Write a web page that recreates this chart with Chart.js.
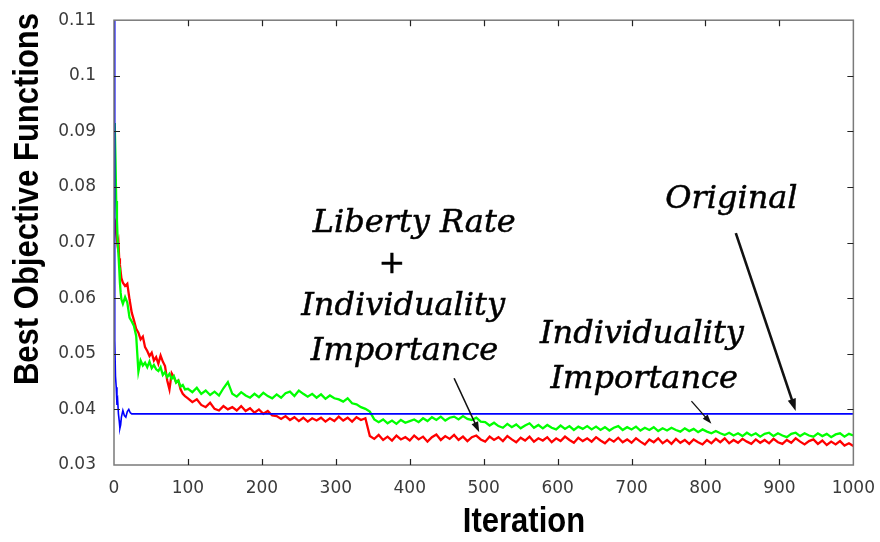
<!DOCTYPE html>
<html>
<head>
<meta charset="utf-8">
<script src="https://cdn.jsdelivr.net/npm/chart.js@4"></script>
<style>
  html, body { margin: 0; padding: 0; background: #fff; }
  #wrap { width: 880px; height: 542px; }
</style>
</head>
<body>
<div id="wrap"><canvas id="chart" width="880" height="542"></canvas></div>
<script>
/* ── DATA ───────────────────────────────────── */
const xTickValues = [0, 100, 200, 300, 400, 500, 600, 700, 800, 900, 1000];
const xTickLabels = ['0', '100', '200', '300', '400', '500', '600', '700', '800', '900', '1000'];
const yTickValues = [0.03, 0.04, 0.05, 0.06, 0.07, 0.08, 0.09, 0.10, 0.11];
const yTickLabels = ['0.03', '0.04', '0.05', '0.06', '0.07', '0.08', '0.09', '0.1', '0.11'];

// sampled iterations shared by the two noisy runs
const iterations = [
    1, 2, 3, 4, 5, 6, 7, 8, 9, 10,
    12, 15, 18, 21, 24, 27, 30, 33, 36, 39,
    42, 45, 48, 51, 54, 57, 60, 63, 66, 69,
    72, 75, 78, 81, 84, 87, 90, 93, 96,
    100, 106, 112, 118, 124, 130, 136, 142, 148, 154,
    160, 166, 172, 178, 184, 190, 196, 202, 208, 214,
    220, 226, 232, 238, 244, 250, 256, 262, 268, 274,
    280, 286, 292, 298, 304, 310, 316, 322, 328, 334,
    340, 346, 352, 358, 364, 370, 376, 382, 388, 394,
    400, 406, 412, 418, 424, 430, 436, 442, 448, 454,
    460, 466, 472, 478, 484, 490, 496, 502, 508, 514,
    520, 526, 532, 538, 544, 550, 556, 562, 568, 574,
    580, 586, 592, 598, 604, 610, 616, 622, 628, 634,
    640, 646, 652, 658, 664, 670, 676, 682, 688, 694,
    700, 706, 712, 718, 724, 730, 736, 742, 748, 754,
    760, 766, 772, 778, 784, 790, 796, 802, 808, 814,
    820, 826, 832, 838, 844, 850, 856, 862, 868, 874,
    880, 886, 892, 898, 904, 910, 916, 922, 928, 934,
    940, 946, 952, 958, 964, 970, 976, 982, 988, 994,
    1000
];

// Liberty Rate + Individuality Importance (red)
const libertyIndividuality = [
    .0732, .0736, .0716, .0705, .0694, .0700, .0672, .0660, .0648, .0636,
    .0628, .0622, .0626, .0598, .0574, .0560, .0545, .0538, .0526, .0531,
    .0512, .0505, .0496, .0502, .0488, .0494, .0482, .0497, .0486, .0478,
    .0452, .0436, .0465, .0458, .0449, .0452, .0436, .0428, .0424,
    .0420, .0413, .0418, .0408, .0404, .0412, .0401, .0398, .0406, .0400,
    .0404, .0398, .0406, .0397, .0402, .0394, .0400, .0392, .0397, .0389,
    .0388, .0383, .0388, .0381, .0386, .0379, .0385, .0378, .0384, .0380,
    .0385, .0378, .0384, .0379, .0387, .0380, .0385, .0378, .0386, .0381,
    .0384, .0352, .0347, .0354, .0345, .0351, .0344, .0353, .0346, .0350,
    .0344, .0353, .0346, .0351, .0342, .0350, .0355, .0345, .0352, .0347,
    .0354, .0345, .0351, .0343, .0350, .0353, .0346, .0342, .0351, .0345,
    .0350, .0343, .0352, .0346, .0341, .0349, .0344, .0351, .0342, .0348,
    .0344, .0350, .0341, .0348, .0343, .0351, .0345, .0340, .0349, .0343,
    .0348, .0342, .0350, .0344, .0339, .0347, .0342, .0349, .0341, .0346,
    .0340, .0348, .0342, .0337, .0346, .0341, .0348, .0339, .0345, .0338,
    .0347, .0340, .0345, .0338, .0346, .0341, .0337, .0345, .0339, .0347,
    .0341, .0348, .0339, .0345, .0340, .0347, .0342, .0338, .0346, .0340,
    .0345, .0339, .0347, .0341, .0338, .0345, .0340, .0348, .0342, .0337,
    .0343, .0346, .0338, .0344, .0336, .0342, .0337, .0343, .0335, .0339,
    .0334
];

// Individuality Importance (green)
const individuality = [
    .0915, .0850, .0775, .0740, .0702, .0680, .0655, .0628, .0610, .0598,
    .0590, .0602, .0592, .0565, .0558, .0550, .0532, .0468, .0488, .0479,
    .0484, .0476, .0486, .0474, .0480, .0472, .0469, .0476, .0462, .0467,
    .0458, .0464, .0455, .0460, .0448, .0452, .0441, .0444, .0436,
    .0437, .0431, .0439, .0428, .0434, .0426, .0432, .0425, .0438, .0449,
    .0428, .0423, .0431, .0425, .0421, .0428, .0422, .0430, .0424, .0420,
    .0427, .0421, .0429, .0432, .0424, .0434, .0428, .0423, .0428, .0421,
    .0427, .0419, .0425, .0420, .0418, .0414, .0420, .0411, .0409, .0404,
    .0401, .0396, .0382, .0377, .0382, .0375, .0380, .0374, .0381, .0376,
    .0379, .0382, .0377, .0384, .0379, .0386, .0381, .0387, .0380, .0385,
    .0387, .0382, .0388, .0383, .0381, .0385, .0378, .0377, .0371, .0376,
    .0370, .0367, .0374, .0368, .0373, .0366, .0371, .0375, .0367, .0372,
    .0366, .0372, .0367, .0364, .0371, .0365, .0370, .0363, .0369, .0365,
    .0370, .0364, .0369, .0363, .0368, .0362, .0367, .0370, .0363, .0368,
    .0364, .0369, .0362, .0367, .0363, .0368, .0361, .0366, .0362, .0367,
    .0363, .0360, .0366, .0361, .0365, .0359, .0364, .0360, .0357, .0361,
    .0357, .0354, .0358, .0353, .0357, .0352, .0358, .0353, .0357, .0351,
    .0356, .0358, .0352, .0357, .0353, .0350, .0356, .0358, .0352, .0357,
    .0353, .0351, .0357, .0352, .0356, .0350, .0355, .0357, .0351, .0356,
    .0353
];

// Original (blue)
const originalIters = [0, 1, 2, 3, 4, 5, 6, 7, 8, 9, 10, 12, 14, 16, 18, 20, 22, 24, 1000];
const original = [.110, .0525, .0460, .0440, .0408, .0415, .0392, .0380, .0366, .0372,
                  .0386, .0398, .0389, .0386, .0396, .0400, .0394, .0392, .0392];

const toPoints = (xs, ys) => xs.map((x, i) => ({ x, y: ys[i] }));

/* ── NOTES & ARROWS (data units) ────────────── */
const notes = [
    { text: 'Original',      x: 835, y: 0.0777 },
    { text: 'Liberty Rate',  x: 406, y: 0.0734 },
    { text: '+',             x: 376, y: 0.0660 },
    { text: 'Individuality', x: 391, y: 0.0584 },
    { text: 'Importance',    x: 393, y: 0.0504 },
    { text: 'Individuality', x: 714, y: 0.0534 },
    { text: 'Importance',    x: 717, y: 0.0454 },
];
const arrows = [
    { from: [841, 0.0717], to: [922, 0.0397], width: 2.6, head: 13 },
    { from: [460, 0.0456], to: [494, 0.0359], width: 1.6, head: 11 },
    { from: [781, 0.0415], to: [808, 0.0374], width: 1.3, head: 10 },
];

/* ── FRAME, TITLES, NOTES ───────────────────── */
const decorations = {
    id: 'decorations',
    afterDatasetsDraw(chart) {
        const { ctx, chartArea: a, scales: { x, y } } = chart;
        ctx.save();
        ctx.strokeStyle = '#7a7a7a';
        ctx.lineWidth = 1.5;
        ctx.strokeRect(a.left, a.top, a.right - a.left, a.bottom - a.top);

        // inward tick marks on all four sides
        ctx.strokeStyle = '#222';
        ctx.lineWidth = 1.2;
        ctx.beginPath();
        xTickValues.slice(1, -1).forEach(v => {
            const px = Math.round(x.getPixelForValue(v)) + 0.5;
            ctx.moveTo(px, a.bottom); ctx.lineTo(px, a.bottom - 6);
            ctx.moveTo(px, a.top);    ctx.lineTo(px, a.top + 6);
        });
        yTickValues.slice(1, -1).forEach(v => {
            const py = Math.round(y.getPixelForValue(v)) + 0.5;
            ctx.moveTo(a.left, py);  ctx.lineTo(a.left + 6, py);
            ctx.moveTo(a.right, py); ctx.lineTo(a.right - 6, py);
        });
        ctx.stroke();
        ctx.restore();
    },
    afterDraw(chart) {
        const { ctx, scales: { x, y } } = chart;
        ctx.save();

        // axis titles
        ctx.fillStyle = '#000';
        ctx.textAlign = 'center';
        ctx.textBaseline = 'middle';
        ctx.font = 'bold 31px "Liberation Sans", Arial, sans-serif';
        ctx.save();
        ctx.translate(524, 522);
        ctx.scale(1, 1.15);
        ctx.fillText('Iteration', 0, 0);
        ctx.restore();
        ctx.save();
        ctx.translate(28, 199);
        ctx.rotate(-Math.PI / 2);
        ctx.scale(1, 1.15);
        ctx.fillText('Best Objective Functions', 0, 0);
        ctx.restore();

        // notes
        ctx.fillStyle = '#000';
        ctx.strokeStyle = '#000';
        ctx.lineWidth = 0.5;
        ctx.font = 'italic 32px "DejaVu Serif", serif';
        notes.forEach(n => {
            const px = x.getPixelForValue(n.x), py = y.getPixelForValue(n.y);
            ctx.fillText(n.text, px, py);
            ctx.strokeText(n.text, px, py);
        });

        // arrows
        ctx.strokeStyle = '#111';
        arrows.forEach(ar => {
            const x0 = x.getPixelForValue(ar.from[0]), y0 = y.getPixelForValue(ar.from[1]);
            const x1 = x.getPixelForValue(ar.to[0]),   y1 = y.getPixelForValue(ar.to[1]);
            const ang = Math.atan2(y1 - y0, x1 - x0);
            const h = ar.head;
            ctx.lineWidth = ar.width;
            ctx.beginPath();
            ctx.moveTo(x0, y0);
            ctx.lineTo(x1 - Math.cos(ang) * h * 0.7, y1 - Math.sin(ang) * h * 0.7);
            ctx.stroke();
            ctx.beginPath();
            ctx.moveTo(x1, y1);
            ctx.lineTo(x1 - h * Math.cos(ang - 0.33), y1 - h * Math.sin(ang - 0.33));
            ctx.lineTo(x1 - h * Math.cos(ang + 0.33), y1 - h * Math.sin(ang + 0.33));
            ctx.closePath();
            ctx.fillStyle = '#111';
            ctx.fill();
        });
        ctx.restore();
    }
};

/* ── CHART ──────────────────────────────────── */
const tickFont = { family: '"DejaVu Sans", sans-serif', size: 17 };

new Chart(document.getElementById('chart'), {
    type: 'line',
    data: {
        datasets: [
            {
                label: 'Original',
                data: toPoints(originalIters, original),
                borderColor: '#0000ff', borderWidth: 1.6,
                pointRadius: 0, tension: 0,
            },
            {
                label: 'Individuality Importance',
                data: toPoints(iterations, individuality),
                borderColor: '#00ff00', borderWidth: 2.3,
                pointRadius: 0, tension: 0,
            },
            {
                label: 'Liberty Rate + Individuality Importance',
                data: toPoints(iterations, libertyIndividuality),
                borderColor: '#ff0000', borderWidth: 2.3,
                pointRadius: 0, tension: 0,
            },
        ]
    },
    options: {
        responsive: false,
        animation: false,
        layout: { padding: { top: 14, right: 25, left: 0, bottom: 0 } },
        plugins: { legend: { display: false }, tooltip: { enabled: false } },
        scales: {
            x: {
                type: 'linear', min: 0, max: 1000,
                grid: { display: false }, border: { display: false },
                afterBuildTicks: s => { s.ticks = xTickValues.map(value => ({ value })); },
                ticks: {
                    color: '#3a3a3a', font: tickFont, padding: 5, maxRotation: 0,
                    callback: (v, i) => xTickLabels[i],
                },
                afterFit: s => { s.height = 77; },
            },
            y: {
                type: 'linear', min: 0.03, max: 0.11,
                grid: { display: false }, border: { display: false },
                afterBuildTicks: s => { s.ticks = yTickValues.map(value => ({ value })); },
                ticks: {
                    color: '#3a3a3a', font: tickFont, padding: 10,
                    callback: (v, i) => yTickLabels[i],
                },
                afterFit: s => { s.width = 114; },
            }
        }
    },
    plugins: [decorations]
});
</script>
</body>
</html>
